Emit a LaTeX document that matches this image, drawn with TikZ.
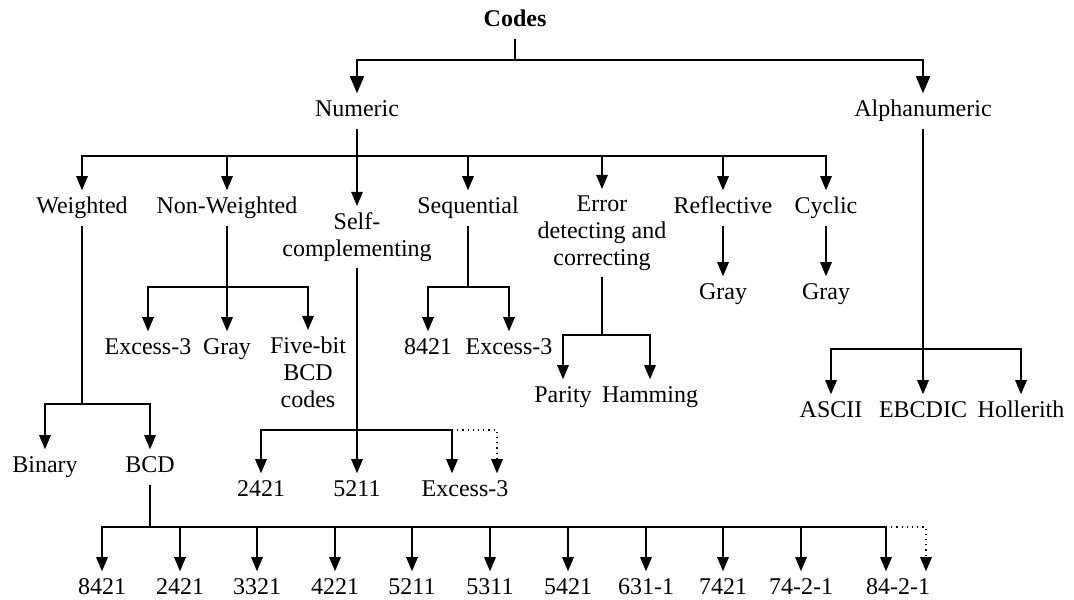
\documentclass[tikz,border=0pt]{standalone}
\usepackage{fontspec}
\setmainfont{Liberation Serif}
\usepackage{tikz}
\usetikzlibrary{arrows}
\tikzset{
  code node/.style={font=\fontsize{12}{13.5}\selectfont,inner xsep=1pt,inner ysep=3pt,text height=8.5pt,text depth=2.7pt},
  code lines/.style={font=\fontsize{12}{13.5}\selectfont,inner xsep=1pt,inner ysep=3pt,align=center},
  top node/.style={code node,font=\fontsize{12}{13.5}\selectfont\bfseries},
  main link/.style={line width=0.95pt}
}

\begin{document}
\begin{tikzpicture}[x=0.5pt,y=-0.5pt,->,>=triangle 45,line width=0.6pt]
  \useasboundingbox (0,0) rectangle (1074,599);

  % top level
  \node [top node] (codes) at (515,21) {Codes};
  \node [code node] (num) at (357,111) {Numeric};
  \node [code node] (alnum) at (923,111) {Alphanumeric};
  \coordinate (codesbar) at (515,60);
  \draw [-,main link] (codes) -- (codesbar);
  \draw [main link] (codesbar) -| (num);
  \draw [main link] (codesbar) -| (alnum);

  % numeric codes
  \node [code node] (wt) at (82,208) {Weighted};
  \node [code node] (nwt) at (227,208) {Non-Weighted};
  \node [code lines] (selfc) at (357,237) {Self-\\complementing};
  \node [code node] (seq) at (468,208) {Sequential};
  \node [code lines] (err) at (602,233) {Error\\detecting and\\correcting};
  \node [code node] (refl) at (723,208) {Reflective};
  \node [code node] (cyc) at (826,208) {Cyclic};
  \coordinate (numbar) at (357,156);
  \draw [-] (num) -- (numbar);
  \foreach \n in {wt,nwt,selfc,seq,err,refl,cyc}
    \draw (numbar) -| (\n);

  % reflective and cyclic
  \node [code node] (grayr) at (723,294) {Gray};
  \node [code node] (grayc) at (826,294) {Gray};
  \draw (refl) -- (grayr);
  \draw (cyc) -- (grayc);

  % non-weighted
  \node [code node] (nex3) at (148,349) {Excess-3};
  \node [code node] (ngray) at (227,349) {Gray};
  \node [code lines] (fivebit) at (308,372) {Five-bit\\BCD\\codes};
  \coordinate (nwtbar) at (227,287);
  \draw [-] (nwt) -- (nwtbar);
  \foreach \n in {nex3,ngray,fivebit}
    \draw (nwtbar) -| (\n);

  % sequential
  \node [code node] (s8421) at (428,349) {8421};
  \node [code node] (sex3) at (509,349) {Excess-3};
  \coordinate (seqbar) at (468,287);
  \draw [-] (seq) -- (seqbar);
  \draw (seqbar) -| (s8421);
  \draw (seqbar) -| (sex3);

  % error detecting and correcting
  \node [code node] (parity) at (563,397) {Parity};
  \node [code node] (hamming) at (650,397) {Hamming};
  \coordinate (errbar) at (602,335);
  \draw [-] (err) -- (errbar);
  \draw (errbar) -| (parity);
  \draw (errbar) -| (hamming);

  % alphanumeric
  \node [code node] (ascii) at (831,412) {ASCII};
  \node [code node] (ebcdic) at (923,412) {EBCDIC};
  \node [code node] (holl) at (1021,412) {Hollerith};
  \coordinate (alnumbar) at (923,349);
  \draw [-] (alnum) -- (alnumbar);
  \draw (alnumbar) -| (ascii);
  \draw (alnumbar) -- (ebcdic);
  \draw (alnumbar) -| (holl);

  % weighted
  \node [code node] (binary) at (45,467) {Binary};
  \node [code node] (bcd) at (150,467) {BCD};
  \coordinate (wtbar) at (82,404);
  \draw [-] (wt) -- (wtbar);
  \draw (wtbar) -| (binary);
  \draw (wtbar) -| (bcd);

  % self-complementing
  \node [code node] (c2421) at (261,491) {2421};
  \node [code node] (c5211) at (357,491) {5211};
  \node [code node] (cex3) at (465,491) {Excess-3};
  \coordinate (selfcbar) at (357,430);
  \draw [-] (selfc) -- (selfcbar);
  \draw (selfcbar) -| (c2421);
  \draw (selfcbar) -- (c5211);
  \draw (selfcbar) -| ([xshift=-6.5pt]cex3.north);
  \draw [dotted] ([xshift=-6.5pt]cex3.north |- selfcbar) -| ([xshift=16pt]cex3.north);

  % BCD
  \coordinate (bcdbar) at (150,527);
  \draw [-] (bcd) -- (bcdbar);
  \foreach \x/\t [count=\i] in {102/8421,180/2421,257/3321,335/4221,412/5211,490/5311,568/5421,646/631-1,723/7421,801/74-2-1}
  {
    \node [code node] (b\i) at (\x,589) {\t};
    \draw (bcdbar) -| (b\i);
  }
  \node [code node] (b11) at (898,589) {84-2-1};
  \draw (bcdbar) -| ([xshift=-6pt]b11.north);
  \draw [dotted] ([xshift=-6pt]b11.north |- bcdbar) -| ([xshift=14pt]b11.north);
\end{tikzpicture}
\end{document}
